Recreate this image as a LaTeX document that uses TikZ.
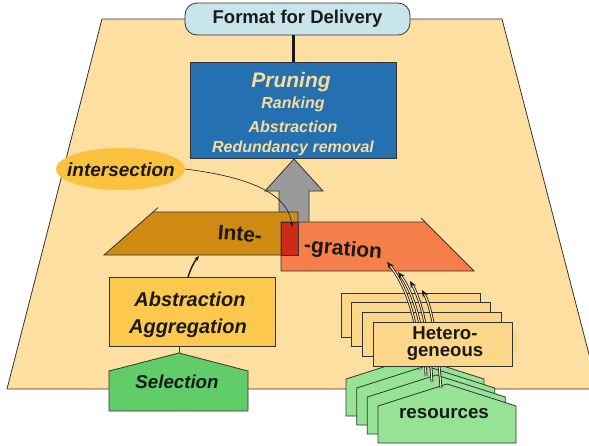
\documentclass[tikz,border=0pt]{standalone}
\usepackage{fontspec}
\setmainfont{Liberation Sans}
\usetikzlibrary{arrows.meta,shapes.geometric}
\definecolor{paper}{HTML}{FDDFA1}
\definecolor{ink}{HTML}{1A1A1A}
\definecolor{edge}{HTML}{333333}
\definecolor{deliver}{HTML}{C7E5EA}
\definecolor{prunefill}{HTML}{2570B0}
\definecolor{prunetext}{HTML}{F7DC9A}
\definecolor{shaftgray}{HTML}{9A9A9A}
\definecolor{intefill}{HTML}{D08C12}
\definecolor{gratfill}{HTML}{F47F4A}
\definecolor{overlap}{HTML}{CC2B15}
\definecolor{isectfill}{HTML}{FBC240}
\definecolor{absfill}{HTML}{FCC84E}
\definecolor{selfill}{HTML}{60CD68}
\definecolor{resfill}{HTML}{96E396}
\definecolor{hetfill}{HTML}{FCD789}
\tikzset{
  outline/.style={draw=edge, line width=0.8pt},
  txt/.style={inner sep=0pt, text=ink, font=\fontsize{#1}{#1}\selectfont\bfseries},
  itxt/.style={inner sep=0pt, text=ink, font=\fontsize{#1}{#1}\selectfont\bfseries\itshape},
  ptxt/.style={inner sep=0pt, text=prunetext, font=\fontsize{#1}{#1}\selectfont\bfseries\itshape},
  flow/.style={draw=ink, line width=1.4pt, -{Stealth[length=5pt,width=4pt]}},
  thinflow/.style={draw=ink, line width=0.6pt, -{Stealth[length=5pt,width=3.5pt]}},
  dflow/.style={draw=ink, double=paper!70!white, double distance=1.1pt, line width=0.8pt, -{Stealth[length=7pt,width=6pt]}},
}
\begin{document}
\begin{tikzpicture}[x=1pt,y=-1pt]
\useasboundingbox (0,0) rectangle (589,445);

% background plane
\path[outline, fill=paper] (102,19) -- (502,19) -- (598,389) -- (7,389) -- cycle;

% grey upward arrow
\path[outline, fill=shaftgray] (279,230) -- (279,191) -- (265,191) -- (294,159)
  -- (323,191) -- (309,191) -- (309,230) -- cycle;

% delivery and pruning
\node[outline, fill=deliver, rounded corners=12pt, minimum width=225pt,
      minimum height=32pt, inner sep=0pt, text=ink,
      font=\fontsize{18.5}{18.5}\selectfont\bfseries] (fmt) at (297.5,19) {Format for Delivery};
\node[outline, fill=prunefill, minimum width=206pt, minimum height=96pt, inner sep=0pt] (prune) at (293,110) {};
\draw[ink, line width=3pt] (prune.north |- fmt.south) -- (prune.north);
\node[ptxt=21] (p1) at (291,82) {Pruning};
\node[ptxt=16] (p2) at (293,104) {Ranking};
\node[ptxt=16] (p3) at (293,127) {Abstraction};
\node[ptxt=16] (p4) at (293,148) {Redundancy removal};

% integration planes
\path[outline, fill=intefill] (104,255) -- (153,212) -- (298,212) -- (298,255) -- cycle;
\draw[edge, line width=0.8pt] (153,212) -- (158,207.6);
\path[outline, fill=gratfill] (281,222) -- (425,222) -- (474,271) -- (281,271) -- cycle;
\draw[edge, line width=0.8pt] (425,222) -- (421,218);
\path[outline, fill=overlap] (281,222) rectangle (298,255);
\node[txt=21, rotate=-5] (inte) at (240,234) {Inte-};
\node[txt=21, rotate=-5] (grat) at (343,250) {-gration};

% intersection label
\node[ellipse, fill=isectfill, minimum width=129pt, minimum height=42pt, inner sep=0pt] (isect) at (120.5,169) {};
\node[itxt=19] (isecttxt) at (121,170) {intersection};
\coordinate (ovl) at (292,227);
\draw[thinflow] (isect.east) .. controls (240,176) and (288,190) .. (ovl);

% abstraction / aggregation and selection
\node[outline, fill=absfill, minimum width=166pt, minimum height=69pt, inner sep=0pt] (abs) at (192,311.5) {};
\node[itxt=20] (abs1) at (190,299) {Abstraction};
\node[itxt=20] (abs2) at (188,328) {Aggregation};
\coordinate (intefoot) at (199,256);
\coordinate (abstop) at (188,277);
\draw[flow] (abstop) .. controls (191,268) and (194,262) .. (intefoot);

\coordinate (selapex) at (179,353);
\path[outline, fill=selfill] (109,411) -- (109,371) -- (selapex) -- (248,371) -- (248,411) -- cycle;
\draw[edge, line width=0.8pt] (selapex |- abs.south) -- (selapex);
\node[itxt=18.7] (sel) at (177,382) {Selection};

% resource houses
\foreach \k in {0,1,2,3}{
  \pgfmathsetmacro{\dx}{10.67*\k}
  \pgfmathsetmacro{\dy}{9*\k}
  \path[outline, fill=resfill, shift={(\dx,\dy)}]
    (346,416) -- (346,379) -- (415,357) -- (484,379) -- (484,416) -- cycle;
}
\node[txt=18.8] (res) at (444,414) {resources};

% heterogeneous boxes, back ones first
\foreach \k in {0,1,2}{
  \path[outline, fill=hetfill] (341+10.5*\k,293+9.7*\k) rectangle ++(139,44);
}
\coordinate (g1) at (387,262);
\coordinate (g2) at (398,272);
\coordinate (g3) at (410,281);
\coordinate (g4) at (422,290);
\coordinate (s1) at (420,370);
\coordinate (s2) at (426,376);
\coordinate (s3) at (432,382);
\coordinate (s4) at (441,388);
\draw[dflow] (s1) .. controls (419,322) and (406,285) .. (g1);
\draw[dflow] (s2) .. controls (424,326) and (413,292) .. (g2);
\draw[dflow] (s3) .. controls (429,332) and (421,300) .. (g3);
\draw[dflow] (s4) .. controls (437,336) and (431,306) .. (g4);
\fill[hetfill] (512,331) rectangle (517,353);
\node[outline, fill=hetfill, minimum width=139pt, minimum height=44pt, inner sep=0pt] (het) at (442.5,344.1) {};
\node[txt=18.6] (het1) at (445,333) {Hetero-};
\node[txt=18.6] (het2) at (445,353) {geneous};
\end{tikzpicture}
\end{document}
